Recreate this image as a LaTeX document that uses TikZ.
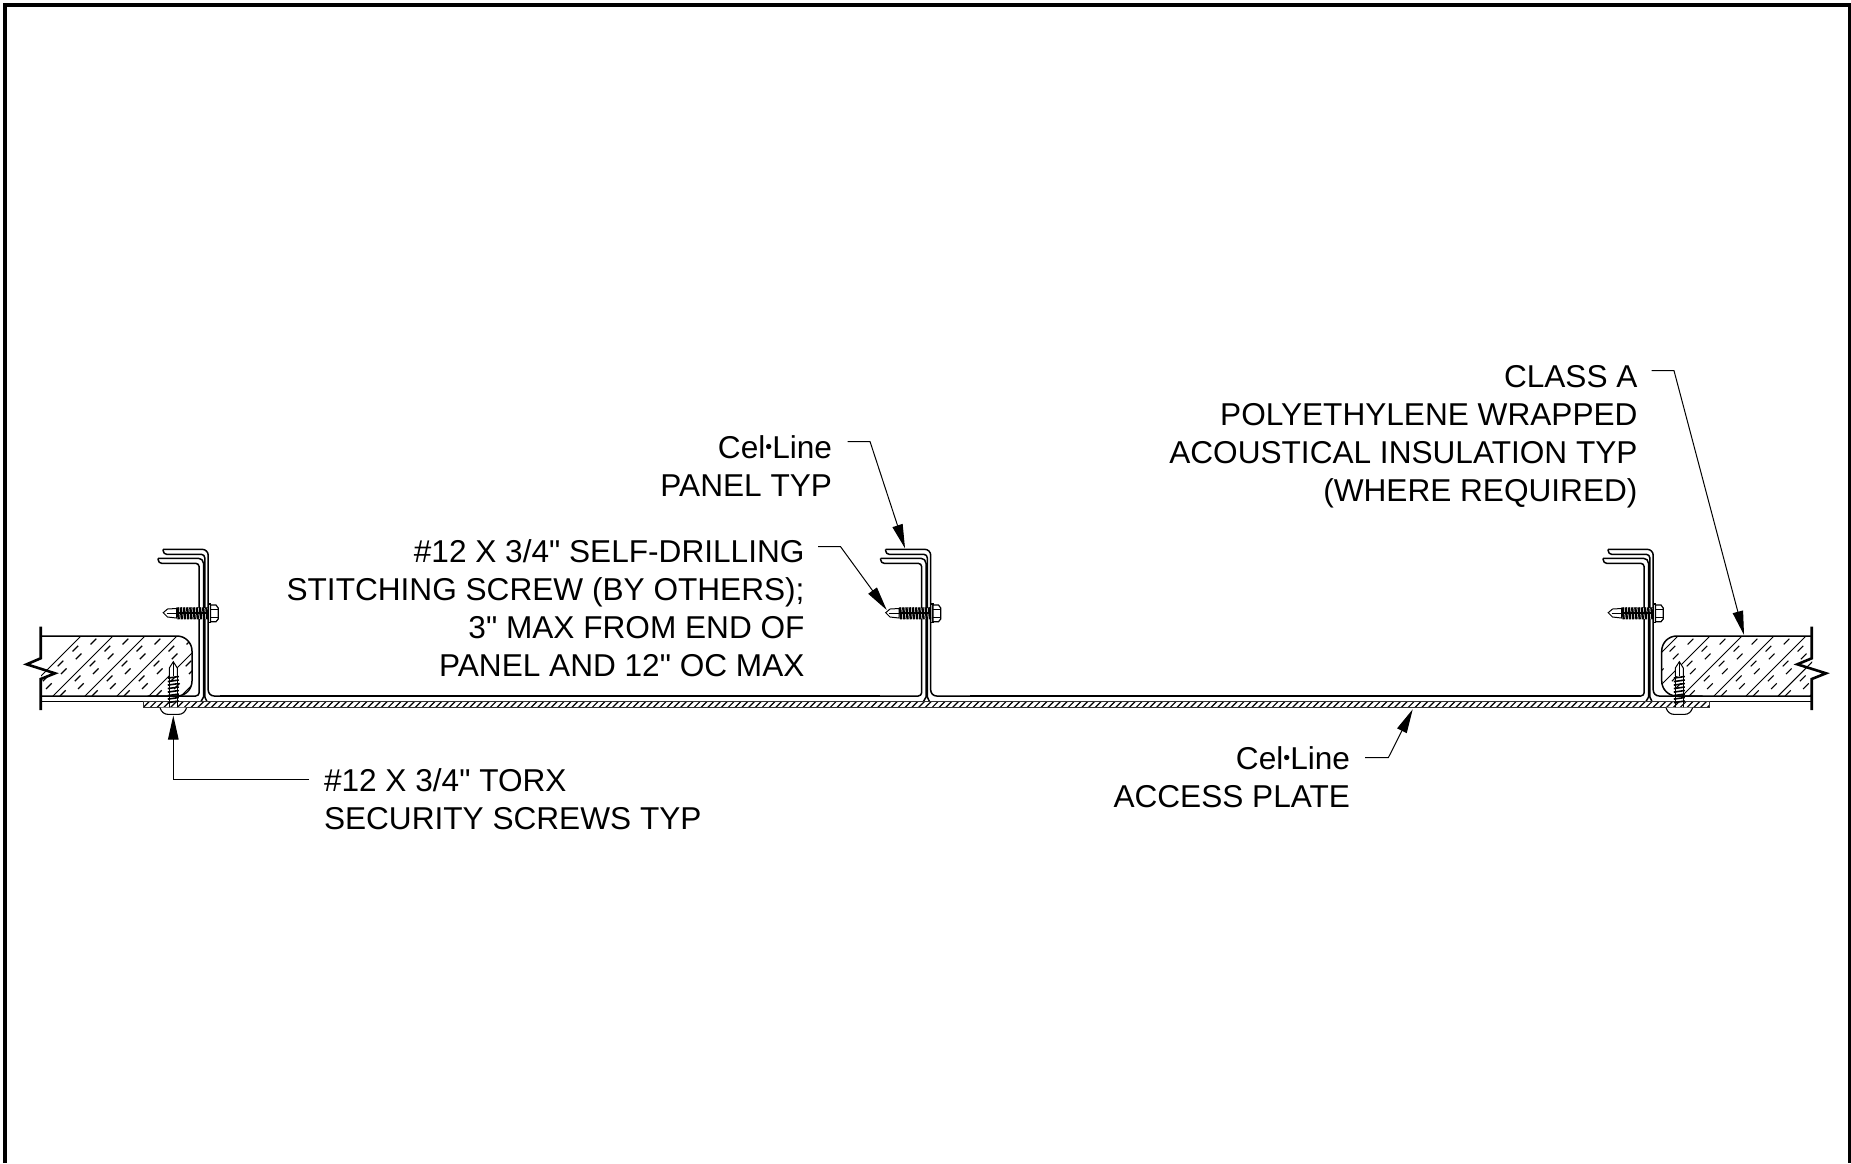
\documentclass[tikz,border=0pt]{standalone}
\usepackage{fontspec}
\newfontfamily\labelfont{Liberation Sans}
\setmainfont{Liberation Sans}
\usetikzlibrary{arrows.meta}
\newcommand{\qmark}{{\char34}}
\newcommand{\celdot}{\raisebox{0.17em}{\scalebox{0.62}{•}}}
\tikzset{
  mainline/.style={line width=1.5pt,black,line join=round},
  thinline/.style={line width=1pt,black},
  hatchline/.style={line width=1.2pt,black},
  leader/.style={line width=1pt,black,-{Triangle[length=24pt,width=10.5pt]}},
  label/.style={font=\labelfont\fontsize{31.6}{38}\selectfont,inner sep=0pt,outer sep=0pt},
  breakline/.style={line width=2.6pt,black,line join=miter},
  insuldash/.style={line width=1.1pt,black,dash pattern=on 8pt off 13pt}
}
% channel pair at shift #1
\newcommand{\channelpair}[1]{%
\begin{scope}[xshift=#1pt]
  % outer L
  \draw[mainline,rounded corners=6pt] (885.7,549.3) -- (930.7,549.3) -- (930.7,696) -- (980,696);
  \draw[mainline,rounded corners=3.5pt] (885.7,549.3) -- (885.7,554.3) -- (927.3,554.3) -- (927.3,697);
  % inner L
  \draw[mainline,rounded corners=5pt] (880.7,558.3) -- (926,558.3) -- (926,697);
  \draw[mainline,rounded corners=3.5pt] (880.7,558.3) -- (880.7,563.3) -- (921.7,563.3) -- (921.7,696) -- (870,696);
  \draw[mainline] (927.3,697) -- (929.5,701.5) (926,697) -- (923.5,701.5);
  % stitching screw
  \fill[white] (899,608) rectangle (931,619);
  \draw[thinline] (885.7,612.7) -- (890,609) -- (899,608.5) -- (899,618) -- (890,617) -- cycle;
  \draw[thinline] (889,613) -- (899,613);
  \foreach \tx in {900,903.2,...,929}{\draw[line width=2.4pt] (\tx,607.3) -- (\tx+1.2,619.3);}
  \draw[line width=2.4pt] (899,613.2) -- (931,613.2);
  \draw[line width=1.3pt] (930.7,604) rectangle (932.9,622.7);
  \draw[line width=1.2pt,fill=white] (932.9,605) -- (938.5,605) -- (940.7,608) -- (940.7,619) -- (938.5,621.7) -- (932.9,621.7) -- cycle;
  \draw[thinline] (933,609.5) -- (940.7,609.5) (933,617) -- (940.7,617);
\end{scope}}
\newcommand{\secscrew}[1]{%
\begin{scope}[xshift=#1pt]
  \draw[line width=1pt,fill=white] (-4,676) -- (-4,668) -- (0,661.7) -- (4,668) -- (4,676);
  \draw[thinline] (0,662) -- (0,676);
  \foreach \ty in {676.5,680,...,704}{\draw[line width=1.6pt] (-5.5,\ty+1.6) -- (5.5,\ty);}
  \draw[line width=1.2pt] (-4,676) -- (-4,708) (4,676) -- (4,708);
  \draw[line width=1.1pt,fill=white] (-13.3,707.7) .. controls (-12,712) and (-9,714.4) .. (-5,714.4) -- (5,714.4) .. controls (9,714.4) and (12,712) .. (13.3,707.7);
\end{scope}}
\begin{document}
\begin{tikzpicture}[x=1pt,y=-1pt]
\useasboundingbox (0,0) rectangle (1851,1163);
\fill[white] (0,0) rectangle (1851,1163);
% frame
\draw[line width=4pt,black] (5.3,1163) -- (5.3,4.5) -- (1849.7,4.5) -- (1849.7,1163);
% insulation left
\begin{scope}
  \clip (41,630) rectangle (1812,700);
  \clip[rounded corners=15pt] (20,636) -- (192,636) -- (192,696) -- (20,696) -- cycle;
  \foreach \d in {-32,0,...,224}{
    \draw[thinline] (53+\d,696) -- (113+\d,636);
    \draw[insuldash] (60+\d,696) -- (124+\d,632);
    \draw[insuldash,dash phase=11pt] (71+\d,696) -- (135+\d,632);
  }
\end{scope}
\draw[mainline,rounded corners=15pt] (41,636) -- (192,636) -- (192,696) -- (41,696);
% insulation right
\begin{scope}
  \clip (41,630) rectangle (1812,700);
  \clip[rounded corners=15pt] (1835,636) -- (1661.7,636) -- (1661.7,696) -- (1835,696) -- cycle;
  \foreach \d in {-32,0,...,192}{
    \draw[thinline] (1618+\d,696) -- (1678+\d,636);
    \draw[insuldash] (1625+\d,696) -- (1689+\d,632);
    \draw[insuldash,dash phase=11pt] (1636+\d,696) -- (1700+\d,632);
  }
\end{scope}
\draw[mainline,rounded corners=15pt] (1812,636) -- (1661.7,636) -- (1661.7,696) -- (1812,696);
% channels: left one, middle one, right one
\draw[mainline] (220,696) -- (880,696) (970,696) -- (1640,696);
\channelpair{-722.5}
\channelpair{0}
\channelpair{722.5}
\draw[mainline] (41,701.5) -- (1811.7,701.5);
% walls and breaks
\draw[breakline] (40.7,626.7) -- (40.7,658.3) -- (26.7,664.3) -- (55,673.3) -- (40.7,679) -- (40.7,710);
\draw[breakline] (1811.7,626.7) -- (1811.7,658.3) -- (1797.3,664.3) -- (1826,673.3) -- (1811.7,679) -- (1811.7,710);
% plate
\begin{scope}
  \clip (143.3,701.5) rectangle (1709.3,707.7);
  \foreach \hx in {136,142.8,...,1716}{\draw[hatchline] (\hx,708) -- (\hx+7,701);}
\end{scope}
\draw[line width=1.1pt,black!80] (143.3,701.5) rectangle (1709.3,707.7);
\secscrew{173.3}
\secscrew{1679.3}
% labels
\node[label,align=right,anchor=north east] (celpanel) at (832,435.5) {Cel\celdot Line\\PANEL TYP};
\node[label,align=right,anchor=north east] (stitch) at (804.5,539.5) {\#12 X 3/4\qmark{} SELF-DRILLING\\STITCHING SCREW (BY OTHERS);\\3\qmark{} MAX FROM END OF\\PANEL AND 12\qmark{} OC MAX};
\node[label,align=left,anchor=north west] (torx) at (324,768.5) {\#12 X 3/4\qmark{} TORX\\SECURITY SCREWS TYP};
\node[label,align=right,anchor=north east] (plate) at (1350,747) {Cel\celdot Line\\ACCESS PLATE};
\node[label,align=right,anchor=north east] (classa) at (1637.5,365) {CLASS A\\POLYETHYLENE WRAPPED\\ACOUSTICAL INSULATION TYP\\(WHERE REQUIRED)};
% leaders
\coordinate (l1a) at (847.6,441.5); \coordinate (l1b) at (870,441.5); \coordinate (l1c) at (905,548.3);
\coordinate (l2a) at (818,546.6); \coordinate (l2b) at (840.5,546.6); \coordinate (l2c) at (886.7,610);
\coordinate (l3a) at (309,779); \coordinate (l3b) at (173.3,779); \coordinate (l3c) at (173.3,715.5);
\coordinate (l4a) at (1365,757.7); \coordinate (l4b) at (1388.3,757.7); \coordinate (l4c) at (1412.7,709.3);
\coordinate (l5a) at (1651.6,370.7); \coordinate (l5b) at (1674,370.7); \coordinate (l5c) at (1744,635);
\draw[leader] (l1a) -- (l1b) -- (l1c);
\draw[leader] (l2a) -- (l2b) -- (l2c);
\draw[leader] (l3a) -- (l3b) -- (l3c);
\draw[leader] (l4a) -- (l4b) -- (l4c);
\draw[leader] (l5a) -- (l5b) -- (l5c);
\end{tikzpicture}
\end{document}
